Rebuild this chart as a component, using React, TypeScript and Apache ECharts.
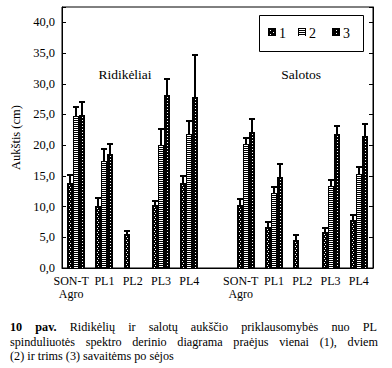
import React, { useEffect, useRef } from 'react';
import * as echarts from 'echarts';

const categories = ['SON-T\nAgro', 'PL1', 'PL2', 'PL3', 'PL4', '', 'SON-T\nAgro', 'PL1', 'PL2', 'PL3', 'PL4'];
const week1 = [13.9, 10.1, 5.6, 10.2, 13.9, null, 10.2, 6.7, 4.6, 5.9, 7.8];
const week1Err = [1.3, 1.3, 0.5, 0.7, 1.0, null, 1.0, 0.8, 0.7, 0.6, 0.8];
const week2 = [24.7, 17.5, null, 20.0, 21.8, null, 20.2, 12.2, null, 13.4, 15.3];
const week2Err = [1.5, 1.8, null, 2.7, 2.1, null, 1.0, 1.0, null, 0.9, 1.1];
const week3 = [24.9, 18.6, null, 28.1, 27.8, null, 22.1, 14.8, null, 21.9, 21.5];
const week3Err = [2.2, 1.6, null, 2.7, 6.9, null, 2.1, 2.1, null, 1.3, 1.9];
const seriesNames = ['1', '2', '3'];
const panelTitles = ['Ridikėliai', 'Salotos'];
const yName = 'Aukštis (cm)';
const captionBold = ['10', 'pav.'];
const captionLine1 = 'Ridikėlių ir salotų aukščio priklausomybės nuo PL';
const captionLine2 = 'spinduliuotės spektro derinio diagrama praėjus vienai (1), dviem';
const captionLine3 = '(2) ir trims (3) savaitėms po sėjos';

const SERIF = 'Liberation Serif, serif';
const BAR_W = 6;

function patternEls(k: number, x0: number, y0: number, w: number, h: number): any[] {
  const els: any[] = [
    { type: 'rect', shape: { x: x0, y: y0, width: w, height: h }, style: { fill: '#000' } },
  ];
  if (h < 2) return els;
  if (k === 0) {
    els.push({ type: 'line', shape: { x1: x0 + 2.5, y1: y0 + 2, x2: x0 + 2.5, y2: y0 + h }, style: { stroke: '#fff', lineWidth: 1, lineDash: [1, 3] } });
    els.push({ type: 'line', shape: { x1: x0 + w - 2.5, y1: y0 + 4, x2: x0 + w - 2.5, y2: y0 + h }, style: { stroke: '#fff', lineWidth: 1, lineDash: [1, 3] } });
  } else if (k === 1) {
    els.push({ type: 'line', shape: { x1: x0 + w / 2, y1: y0 + 1, x2: x0 + w / 2, y2: y0 + h }, style: { stroke: '#fff', lineWidth: w - 2, lineDash: [1, 1] } });
  } else {
    els.push({ type: 'line', shape: { x1: x0 + w / 2 + 0.5, y1: y0 + 2, x2: x0 + w / 2 + 0.5, y2: y0 + h }, style: { stroke: '#fff', lineWidth: 1, lineDash: [1, 2] } });
  }
  return els;
}

function makeRender(k: number) {
  return (params: any, api: any) => {
    const ci = api.value(0);
    const v = api.value(1);
    const e = api.value(2);
    const top = api.coord([ci, v]);
    const base = api.coord([ci, 0]);
    const errTop = api.coord([ci, v + e]);
    const x0 = Math.round(top[0] + (k - 1) * BAR_W - BAR_W / 2);
    const yTop = Math.round(top[1]);
    const yBase = Math.round(base[1]);
    const children = patternEls(k, x0, yTop, BAR_W, yBase - yTop);
    const cx = x0 + BAR_W / 2;
    const ye = Math.round(errTop[1]);
    children.push({ type: 'line', shape: { x1: cx, y1: yTop, x2: cx, y2: ye }, style: { stroke: '#000', lineWidth: 2 } });
    children.push({ type: 'rect', shape: { x: cx - 3, y: ye - 1, width: 6, height: 2 }, style: { fill: '#000' } });
    return { type: 'group', children };
  };
}

function buildData(vals: (number | null)[], errs: (number | null)[]) {
  const out: number[][] = [];
  vals.forEach((v, i) => {
    if (v !== null) out.push([i, v, errs[i] as number]);
  });
  return out;
}

function measure(ctx: CanvasRenderingContext2D | null, text: string, font: string) {
  if (!ctx) return text.length * 5.5;
  ctx.font = font;
  return ctx.measureText(text).width;
}

function justifiedLine(ctx: CanvasRenderingContext2D | null, words: { t: string; bold?: boolean }[], x1: number, x2: number, y: number, size: number) {
  const widths = words.map((w) => measure(ctx, w.t, `${w.bold ? 'bold ' : ''}${size}px ${SERIF}`));
  const total = widths.reduce((a, b) => a + b, 0);
  const gap = (x2 - x1 - total) / (words.length - 1);
  let x = x1;
  return words.map((w, i) => {
    const el = {
      type: 'text',
      x,
      y,
      style: { text: w.t, fill: '#000', fontSize: size, fontFamily: SERIF, fontWeight: w.bold ? 'bold' : 'normal', verticalAlign: 'middle', align: 'left' },
    };
    x += widths[i] + gap;
    return el;
  });
}

export default function App() {
  const ref = useRef<HTMLDivElement>(null);
  useEffect(() => {
    if (!ref.current) return;
    const chart = echarts.init(ref.current, undefined, { renderer: 'svg' });
    const canvas = document.createElement('canvas');
    const ctx = canvas.getContext('2d');
    const capSize = 12.2;
    const line1Words = [
      ...captionBold.map((t) => ({ t, bold: true })),
      ...captionLine1.split(' ').map((t) => ({ t })),
    ];
    const line2Words = captionLine2.split(' ').map((t) => ({ t }));

    const legendEls: any[] = [
      { type: 'rect', shape: { x: 259.5, y: 15.5, width: 104, height: 36 }, style: { fill: '#fff', stroke: '#000', lineWidth: 1 } },
    ];
    const iconX = [268, 298, 332];
    seriesNames.forEach((n, k) => {
      legendEls.push({ type: 'group', children: patternEls(k, iconX[k], 28, 8, 8) });
      legendEls.push({ type: 'text', x: iconX[k] + 11, y: 33, style: { text: n, fill: '#000', fontSize: 14, fontFamily: SERIF, verticalAlign: 'middle', align: 'left' } });
    });

    const catData = categories.map((c) =>
      c.indexOf('\n') >= 0 ? { value: c, textStyle: { padding: [0, 10, 0, 0] } } : c
    );

    const option: any = {
      animation: false,
      textStyle: { fontFamily: SERIF },
      grid: { left: 62, right: 19, top: 7, bottom: 100, show: true, borderColor: '#000', borderWidth: 1, backgroundColor: 'transparent' },
      xAxis: {
        type: 'category',
        data: catData,
        boundaryGap: true,
        axisLine: { lineStyle: { color: '#000', width: 1 } },
        axisTick: { show: false },
        axisLabel: { interval: 0, color: '#000', fontSize: 12, fontFamily: SERIF, lineHeight: 13, margin: 6 },
        splitLine: { show: false },
      },
      yAxis: [
        {
          type: 'value',
          min: 0,
          max: 42.5,
          interval: 5,
          name: yName,
          nameLocation: 'middle',
          nameGap: 29,
          nameTextStyle: { color: '#000', fontSize: 12.5, fontFamily: SERIF },
          axisLine: { show: true, lineStyle: { color: '#000' } },
          axisTick: { show: true, inside: true, length: 4, lineStyle: { color: '#000' } },
          axisLabel: {
            color: '#000',
            fontSize: 12.5,
            fontFamily: SERIF,
            margin: 7,
            formatter: (v: number) => (v % 5 === 0 ? v.toFixed(1).replace('.', ',') : ''),
          },
          splitLine: { show: false },
        },
        {
          type: 'value',
          position: 'right',
          min: 0,
          max: 42.5,
          interval: 5,
          axisLine: { show: true, lineStyle: { color: '#000' } },
          axisTick: { show: true, inside: true, length: 4, lineStyle: { color: '#000' } },
          axisLabel: { show: false },
          splitLine: { show: false },
        },
      ],
      series: [
        { type: 'custom', name: seriesNames[0], renderItem: makeRender(0), data: buildData(week1, week1Err), encode: { x: 0, y: 1 }, clip: false },
        { type: 'custom', name: seriesNames[1], renderItem: makeRender(1), data: buildData(week2, week2Err), encode: { x: 0, y: 1 }, clip: false },
        { type: 'custom', name: seriesNames[2], renderItem: makeRender(2), data: buildData(week3, week3Err), encode: { x: 0, y: 1 }, clip: false },
      ],
      graphic: [
        { type: 'text', x: 125, y: 74, style: { text: panelTitles[0], fill: '#000', fontSize: 13.5, fontFamily: SERIF, align: 'center', verticalAlign: 'middle' } },
        { type: 'text', x: 301, y: 74, style: { text: panelTitles[1], fill: '#000', fontSize: 13.5, fontFamily: SERIF, align: 'center', verticalAlign: 'middle' } },
        ...legendEls,
        ...justifiedLine(ctx, line1Words, 10, 377, 327, capSize),
        ...justifiedLine(ctx, line2Words, 10, 378, 342, capSize),
        { type: 'text', x: 10, y: 356, style: { text: captionLine3, fill: '#000', fontSize: capSize, fontFamily: SERIF, verticalAlign: 'middle', align: 'left' } },
      ],
    };
    chart.setOption(option);
    return () => chart.dispose();
  }, []);
  return <div ref={ref} style={{ position: 'fixed', left: 0, top: 0, width: 392, height: 368, background: '#fff' }} />;
}
